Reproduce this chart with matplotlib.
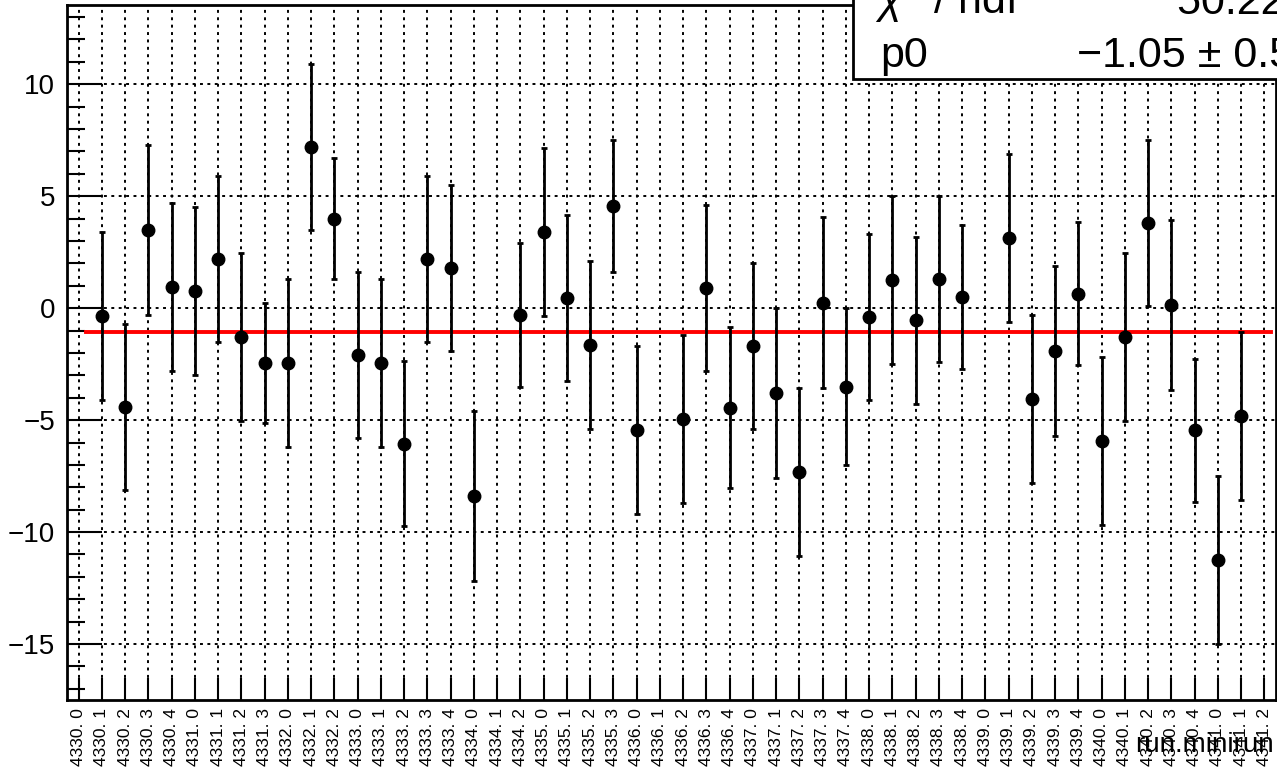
import numpy as np
from matplotlib import pyplot as plt
from matplotlib.patches import Rectangle
from matplotlib.ticker import MultipleLocator

plt.rcParams['font.family'] = ['Liberation Sans', 'DejaVu Sans']
plt.rcParams['mathtext.fontset'] = 'custom'
plt.rcParams['mathtext.rm'] = 'Liberation Sans'
plt.rcParams['mathtext.it'] = 'Liberation Sans:italic'

runs = {4330: 5, 4331: 4, 4332: 3, 4333: 5, 4334: 3, 4335: 4,
        4336: 5, 4337: 5, 4338: 5, 4339: 5, 4340: 5, 4341: 3}
labels = ['%d. %d' % (r, m) for r in runs for m in range(runs[r])]

nan = np.nan
values = [nan, -0.35, -4.4, 3.5, 0.95, 0.75, 2.2, -1.3, -2.45, -2.45,
          7.2, 4.0, -2.1, -2.45, -6.05, 2.2, 1.8, -8.4, nan, -0.3,
          3.4, 0.45, -1.65, 4.55, -5.45, nan, -4.95, 0.9, -4.45, -1.7,
          -3.8, -7.3, 0.25, -3.5, -0.4, 1.25, -0.55, 1.3, 0.5, nan,
          3.15, -4.05, -1.9, 0.65, -5.95, -1.3, 3.8, 0.15, -5.45, -11.25,
          -4.8, nan]
errors = [nan, 3.75, 3.7, 3.8, 3.75, 3.75, 3.7, 3.75, 2.7, 3.75,
          3.7, 2.7, 3.7, 3.75, 3.7, 3.7, 3.7, 3.8, nan, 3.2,
          3.75, 3.7, 3.75, 2.95, 3.75, nan, 3.75, 3.7, 3.6, 3.7,
          3.8, 3.75, 3.8, 3.5, 3.7, 3.75, 3.75, 3.7, 3.2, nan,
          3.75, 3.75, 3.8, 3.2, 3.75, 3.75, 3.7, 3.8, 3.2, 3.75,
          3.75, nan]

p0 = -1.05
fit_range = (0.32, 51.3)

fig = plt.figure(figsize=(12.77, 7.73), dpi=100)
ax = fig.add_axes([67 / 1277, 1 - 700 / 773, 1209 / 1277, 695 / 773])

x = np.arange(len(labels))
ax.plot(fit_range, [p0, p0], color='#ff0000', lw=2.8, zorder=3)
ax.errorbar(x, values, yerr=errors, fmt='o', color='black', ms=9,
            elinewidth=2, capsize=2.5, capthick=2, zorder=4)

ax.set_xlim(-0.5, len(labels) - 0.5)
ax.set_ylim(-17.5, 13.54)

ax.set_xticks(x)
ax.set_xticklabels(labels, rotation=90, fontsize=12.5, va='top')
ax.yaxis.set_major_locator(MultipleLocator(5))
ax.yaxis.set_minor_locator(MultipleLocator(1))
ax.tick_params(axis='x', direction='in', length=16, width=1.5, pad=6)
ax.tick_params(axis='y', which='major', direction='in', length=25, width=1.5, pad=8.5, labelsize=20)
ax.tick_params(axis='y', which='minor', direction='in', length=13, width=1.5)
ax.grid(True, which='major', color='black', ls=(0, (1.5, 2.3)), lw=1.4)
for s in ax.spines.values():
    s.set_linewidth(2)

fig.text(1274 / 1277, 1 - 745 / 773, 'run.minirun', ha='right', va='center', fontsize=20)

box = Rectangle((853 / 1277, 1 - 79 / 773), 0.5, 0.3, transform=fig.transFigure,
                facecolor='white', edgecolor='black', lw=2, zorder=5)
fig.add_artist(box)
fig.text(875 / 1277, 1 - 14 / 773, r'$\chi^{2}$ / ndf', fontsize=31, va='baseline', zorder=6)
fig.text(1177 / 1277, 1 - 14 / 773, '50.22 / 46', fontsize=31, va='baseline', zorder=6)
fig.text(880 / 1277, 1 - 67 / 773, 'p0', fontsize=31, va='baseline', zorder=6)
fig.text(1077 / 1277, 1 - 67 / 773, '\u22121.05 \u00b1 0.53', fontsize=31, va='baseline', zorder=6)

plt.savefig('out.png', dpi=100)
